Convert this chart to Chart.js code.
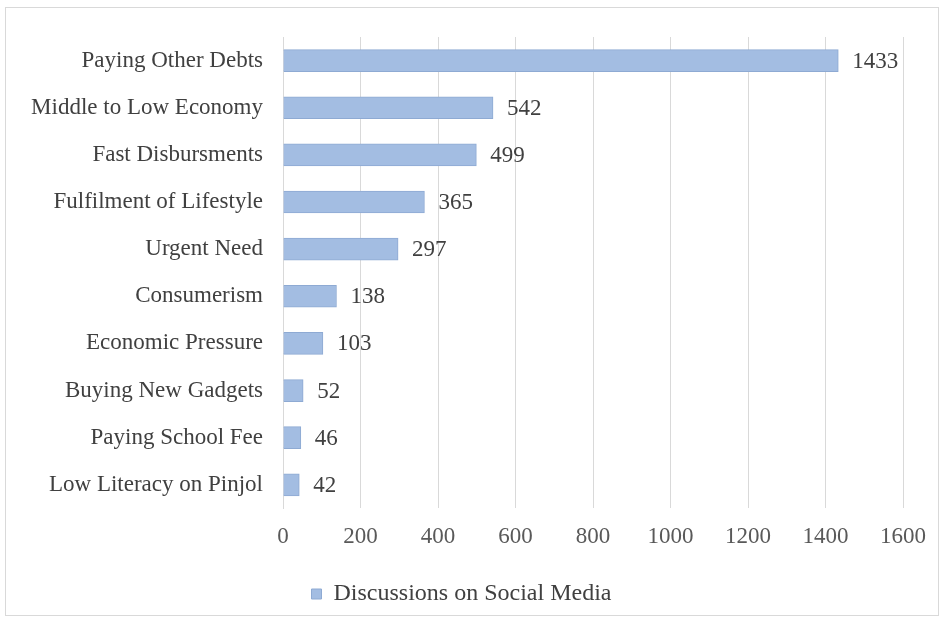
<!DOCTYPE html>
<html>
<head>
<meta charset="utf-8">
<script src="https://cdn.jsdelivr.net/npm/chart.js@4"></script>
<style>
  html, body { margin: 0; padding: 0; background: #fff; }
  #wrap { position: relative; width: 944px; height: 624px; }
</style>
</head>
<body>
<div id="wrap"><canvas id="chart" width="944" height="624"></canvas></div>
<script>
const categories = [
  'Paying Other Debts', 'Middle to Low Economy', 'Fast Disbursments',
  'Fulfilment of Lifestyle', 'Urgent Need', 'Consumerism',
  'Economic Pressure', 'Buying New Gadgets', 'Paying School Fee',
  'Low Literacy on Pinjol'
];
const discussions = [1433, 542, 499, 365, 297, 138, 103, 52, 46, 42];
const seriesName = 'Discussions on Social Media';
const xTicks = [0, 200, 400, 600, 800, 1000, 1200, 1400, 1600];

const serif = '"Liberation Serif", "DejaVu Serif", serif';
const textGrey = '#404040';

// outer frame, like the exported office chart
const frame = {
  id: 'frame',
  beforeDraw(chart) {
    const {ctx} = chart;
    ctx.save();
    ctx.fillStyle = '#fff';
    ctx.fillRect(0, 0, chart.width, chart.height);
    ctx.strokeStyle = '#d9d9d9';
    ctx.lineWidth = 1;
    ctx.strokeRect(5.5, 7.5, 933, 608);
    ctx.restore();
  }
};

// value labels after the bar ends
const valueLabels = {
  id: 'valueLabels',
  afterDatasetsDraw(chart) {
    const {ctx} = chart;
    const meta = chart.getDatasetMeta(0);
    ctx.save();
    ctx.font = '23px ' + serif;
    ctx.fillStyle = textGrey;
    ctx.textBaseline = 'middle';
    meta.data.forEach((bar, i) => {
      ctx.fillText(String(discussions[i]), bar.x + 14, bar.y + 1);
    });
    ctx.restore();
  }
};

new Chart(document.getElementById('chart'), {
  type: 'bar',
  data: {
    labels: categories,
    datasets: [{
      label: seriesName,
      data: discussions,
      backgroundColor: '#a3bde2',
      borderColor: '#8eaad3',
      borderWidth: 1,
      barThickness: 22
    }]
  },
  plugins: [frame, valueLabels],
  options: {
    indexAxis: 'y',
    responsive: false,
    animation: false,
    layout: {
      padding: {left: 20, right: 41, top: 37, bottom: 8}
    },
    plugins: {
      legend: {
        position: 'bottom',
        labels: {
          boxWidth: 10,
          boxHeight: 10,
          padding: 16,
          color: textGrey,
          font: {family: serif, size: 24}
        }
      },
      tooltip: {enabled: false}
    },
    scales: {
      x: {
        min: 0,
        max: 1600,
        afterBuildTicks(scale) {
          scale.ticks = xTicks.map(v => ({value: v}));
        },
        grid: {color: '#d9d9d9', drawTicks: false},
        border: {display: false},
        ticks: {
          padding: 15,
          color: '#595959',
          font: {family: serif, size: 23},
          callback: v => String(v)
        }
      },
      y: {
        afterFit(scale) { scale.width = 263; },
        grid: {display: false, drawTicks: false},
        border: {color: '#d9d9d9'},
        ticks: {
          padding: 20,
          color: textGrey,
          font: {family: serif, size: 23}
        }
      }
    }
  }
});
</script>
</body>
</html>
